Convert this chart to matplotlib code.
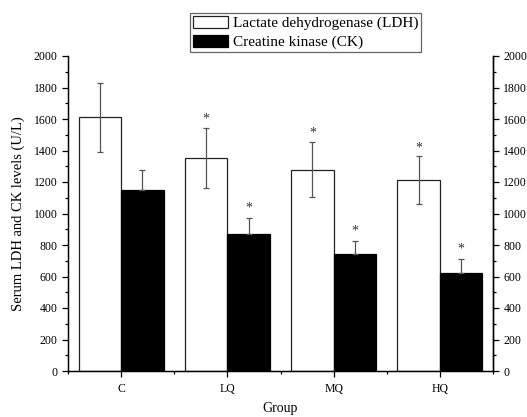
import matplotlib
matplotlib.use("Agg")
import matplotlib.pyplot as plt
import numpy as np

plt.rcParams['font.family'] = ['Liberation Serif', 'DejaVu Serif']

groups = ["C", "LQ", "MQ", "HQ"]
ldh = [1610, 1355, 1278, 1212]
ldh_err = [220, 190, 176, 150]
ck = [1150, 868, 745, 622]
ck_err = [125, 105, 82, 90]
ldh_sig = [False, True, True, True]
ck_sig = [False, True, True, True]

fig = plt.figure(figsize=(5.27, 4.17), dpi=100)
ax = fig.add_axes([68/527, 1-371/417, (493-68)/527, (371-56)/417])

x = np.arange(len(groups))
w = 0.4
ax.bar(x - w/2, ldh, w, color='white', edgecolor='#222222', linewidth=0.9,
       label='Lactate dehydrogenase (LDH)', zorder=2)
ax.bar(x + w/2, ck, w, color='black', edgecolor='black', linewidth=0.9,
       label='Creatine kinase (CK)', zorder=2)
ax.errorbar(x - w/2, ldh, yerr=ldh_err, fmt='none', ecolor='#555555',
            elinewidth=0.9, capsize=2.3, capthick=0.9, zorder=3)
ax.errorbar(x + w/2, ck, yerr=[np.zeros(len(ck)), ck_err], fmt='none',
            ecolor='#555555', elinewidth=0.9, capsize=2.3, capthick=0.9, zorder=3)

for i in range(len(groups)):
    if ldh_sig[i]:
        ax.text(x[i] - w/2, ldh[i] + ldh_err[i] + 55, '*', ha='center',
                va='center', fontsize=10, color='#333333')
    if ck_sig[i]:
        ax.text(x[i] + w/2, ck[i] + ck_err[i] + 60, '*', ha='center',
                va='center', fontsize=10, color='#333333')

ax.set_xlim(-0.5, 3.5)
ax.set_ylim(0, 2000)
ax.set_xticks(x)
ax.set_xticklabels(groups, fontsize=8.5)
ax.set_xticks(np.arange(-0.5, 3.6, 1), minor=True)
ax.set_yticks(np.arange(0, 2001, 200))
ax.set_yticks(np.arange(100, 2000, 200), minor=True)
ax.tick_params(axis='y', labelsize=8.5, direction='out', length=4, width=0.9)
ax.tick_params(axis='y', which='minor', length=2.5, width=0.9)
ax.tick_params(axis='x', direction='out', length=4, width=0.9, pad=5)
ax.tick_params(axis='x', which='minor', length=2.5, width=0.9)
ax.spines['top'].set_visible(False)
for s in ['left', 'right', 'bottom']:
    ax.spines[s].set_linewidth(1.0)

ax2 = ax.twinx()
ax2.set_ylim(0, 2000)
ax2.set_yticks(np.arange(0, 2001, 200))
ax2.set_yticks(np.arange(100, 2000, 200), minor=True)
ax2.tick_params(axis='y', labelsize=8.5, direction='out', length=4, width=0.9)
ax2.tick_params(axis='y', which='minor', length=2.5, width=0.9)
ax2.spines['top'].set_visible(False)
ax2.spines['right'].set_linewidth(1.0)

ax.set_ylabel('Serum LDH and CK levels (U/L)', fontsize=10.5, labelpad=6)
ax.set_xlabel('Group', fontsize=10, labelpad=5)

leg = ax.legend(loc='upper left', bbox_to_anchor=(190/527, 1-13/417),
                bbox_transform=fig.transFigure, fontsize=11, frameon=True,
                fancybox=False, framealpha=1, edgecolor='#666666',
                handlelength=2.3, handleheight=0.8, handletextpad=0.3,
                borderpad=0.2, labelspacing=0.3, borderaxespad=0)
leg.get_frame().set_linewidth(0.9)

fig.savefig('out.png', dpi=100)
